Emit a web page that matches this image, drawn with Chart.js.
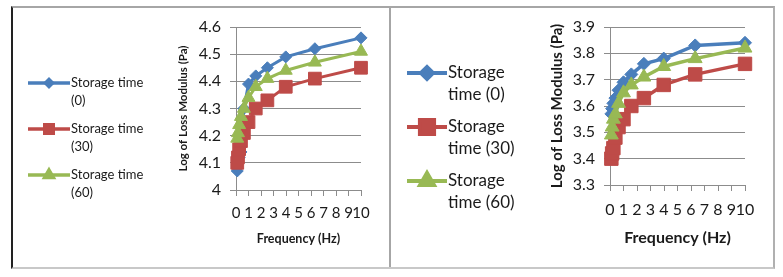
<!DOCTYPE html>
<html>
<head>
<meta charset="utf-8">
<script src="https://cdn.jsdelivr.net/npm/chart.js@4/dist/chart.umd.min.js"></script>
<style>
  body { margin: 0; background: #fff; width: 783px; height: 277px; position: relative; overflow: hidden; }
  .box { position: absolute; box-sizing: border-box; }
  #boxA { left: 11px; top: 6px; width: 380px; height: 263px; border-top: 2px solid #a6a6a6; border-left: 2px solid #222; border-bottom: 2px solid #c8c8c8; border-right: 2px solid #a6a6a6; }
  #boxB { left: 389px; top: 6px; width: 386px; height: 263px; border-top: 2px solid #a6a6a6; border-right: 2px solid #b0b0b0; border-bottom: 2px solid #c8c8c8; }
  canvas { position: absolute; }
</style>
</head>
<body>
<div class="box" id="boxA"></div>
<div class="box" id="boxB"></div>
<canvas id="chartA" style="left:12px;top:7px;width:378px;height:261px"></canvas>
<canvas id="chartB" style="left:391px;top:8px;width:382px;height:260px"></canvas>
<script>
// frequency sweep points (Hz)
var freq = [0.1, 0.158, 0.251, 0.398, 0.631, 1, 1.58, 2.51, 3.98, 6.31, 10];

// left chart - log of loss modulus
var leftTime0  = [4.07, 4.10, 4.12, 4.14, 4.30, 4.39, 4.42, 4.45, 4.49, 4.52, 4.56];
var leftTime30 = [4.10, 4.12, 4.15, 4.18, 4.21, 4.25, 4.30, 4.33, 4.38, 4.41, 4.45];
var leftTime60 = [4.19, 4.21, 4.24, 4.27, 4.30, 4.34, 4.38, 4.41, 4.44, 4.47, 4.51];

// right chart - log of loss modulus
var rightTime0  = [3.57, 3.59, 3.61, 3.63, 3.66, 3.69, 3.72, 3.76, 3.78, 3.83, 3.84];
var rightTime30 = [3.40, 3.42, 3.44, 3.48, 3.52, 3.55, 3.60, 3.63, 3.68, 3.72, 3.76];
var rightTime60 = [3.49, 3.52, 3.55, 3.57, 3.61, 3.65, 3.68, 3.71, 3.75, 3.78, 3.82];

var leftNames  = [['Storage time', '(0)'], ['Storage time', '(30)'], ['Storage time', '(60)']];
var rightNames = [['Storage', 'time (0)'], ['Storage', 'time (30)'], ['Storage', 'time (60)']];

var leftYTicks  = [4.0, 4.6];
var rightYTicks = [3.3, 3.9];
var xTicks = [0, 10];

var yTitle = 'Log of Loss Modulus (Pa)';
var xTitle = 'Frequency (Hz)';

var colors = ['#4a7ebb', '#be4b48', '#98b954'];
var styles = ['rectRot', 'rect', 'triangle'];

function pts(vals) {
  return freq.map(function (f, i) { return { x: f, y: vals[i] }; });
}

// draws the legend on the left side, lines of text under each other
var sideLegend = {
  id: 'sideLegend',
  afterDraw: function (chart, args, o) {
    var ctx = chart.ctx;
    ctx.save();
    chart.data.datasets.forEach(function (ds, i) {
      var y = o.y0 + i * o.gap;
      ctx.strokeStyle = ds.borderColor;
      ctx.lineWidth = o.lineWidth;
      ctx.beginPath();
      ctx.moveTo(o.x0, y);
      ctx.lineTo(o.x1, y);
      ctx.stroke();
      ctx.fillStyle = ds.backgroundColor;
      ctx.strokeStyle = ds.borderColor;
      Chart.helpers.drawPoint(ctx, { pointStyle: ds.pointStyle, radius: o.radius[i], rotation: 0, borderWidth: 1 }, (o.x0 + o.x1) / 2, y);
      ctx.fillStyle = '#1a1a1a';
      ctx.font = o.font;
      ctx.textAlign = 'left';
      ctx.textBaseline = 'middle';
      ds.legendText.forEach(function (t, j) {
        ctx.fillText(t, o.tx, y + j * o.lineGap);
      });
    });
    ctx.restore();
  }
};

function makeChart(id, series, names, yRange, cfg) {
  var datasets = series.map(function (vals, i) {
    return {
      label: names[i].join(' '),
      legendText: names[i],
      data: pts(vals),
      showLine: true,
      borderColor: colors[i],
      backgroundColor: colors[i],
      borderWidth: cfg.lineWidth,
      pointStyle: styles[i],
      pointRadius: cfg.radius[i],
      pointBorderWidth: 1,
      order: 3 - i,
      clip: false
    };
  });
  return new Chart(document.getElementById(id), {
    type: 'scatter',
    data: { datasets: datasets },
    options: {
      animation: false,
      responsive: false,
      devicePixelRatio: 1,
      layout: { padding: cfg.padding },
      plugins: {
        legend: { display: false },
        tooltip: { enabled: false },
        sideLegend: cfg.legend
      },
      scales: {
        x: {
          type: 'linear',
          min: xTicks[0], max: xTicks[1],
          afterFit: function (s) { s.height = cfg.xHeight; },
          grid: { drawOnChartArea: false, tickLength: 6, color: '#8c8c8c' },
          border: { color: '#8c8c8c' },
          ticks: { stepSize: 1, autoSkip: false, maxRotation: 0, padding: cfg.xPad, color: '#1a1a1a', font: { family: 'Lato', size: cfg.xTickSize } },
          title: { display: true, text: xTitle, color: '#1a1a1a', font: { family: 'Lato', size: cfg.xTitleSize, weight: 'bold' } }
        },
        y: {
          min: yRange[0], max: yRange[1],
          afterFit: function (s) { s.width = cfg.yWidth; },
          grid: { color: '#8c8c8c', tickLength: 6 },
          border: { color: '#8c8c8c' },
          ticks: {
            stepSize: 0.1, padding: cfg.yPad, color: '#1a1a1a', font: { family: 'Lato', size: cfg.yTickSize },
            callback: function (v) { return String(Number(v.toFixed(1))); }
          },
          title: { display: true, text: yTitle, color: '#1a1a1a', font: { family: 'Lato', size: cfg.yTitleSize, weight: 'bold' } }
        }
      }
    },
    plugins: [sideLegend]
  });
}

var cA = document.getElementById('chartA');
cA.width = 378; cA.height = 261;
var cB = document.getElementById('chartB');
cB.width = 382; cB.height = 260;

makeChart('chartA', [leftTime0, leftTime30, leftTime60], leftNames, leftYTicks, {
  padding: { left: 160, right: 29, top: 20, bottom: 18 },
  yWidth: 64, xHeight: 60, xPad: 8, yPad: 9,
  xTickSize: 15, yTickSize: 16, xTitleSize: 12.5, yTitleSize: 11.5,
  lineWidth: 3, radius: [6, 9, 7.5],
  legend: { x0: 16, x1: 58, tx: 59, y0: 76, gap: 46, lineGap: 18, lineWidth: 3.5, radius: [3.5, 6, 5], font: '13px Lato' }
});

makeChart('chartB', [rightTime0, rightTime30, rightTime60], rightNames, rightYTicks, {
  padding: { left: 153, right: 28, top: 19, bottom: 17 },
  yWidth: 66, xHeight: 66, xPad: 9, yPad: 9,
  xTickSize: 16, yTickSize: 16, xTitleSize: 16, yTitleSize: 15,
  lineWidth: 3.5, radius: [6.5, 9.5, 8],
  legend: { x0: 16, x1: 56, tx: 57, y0: 65, gap: 54, lineGap: 22, lineWidth: 4, radius: [6, 10, 8], font: '17px Lato' }
});
</script>
</body>
</html>
